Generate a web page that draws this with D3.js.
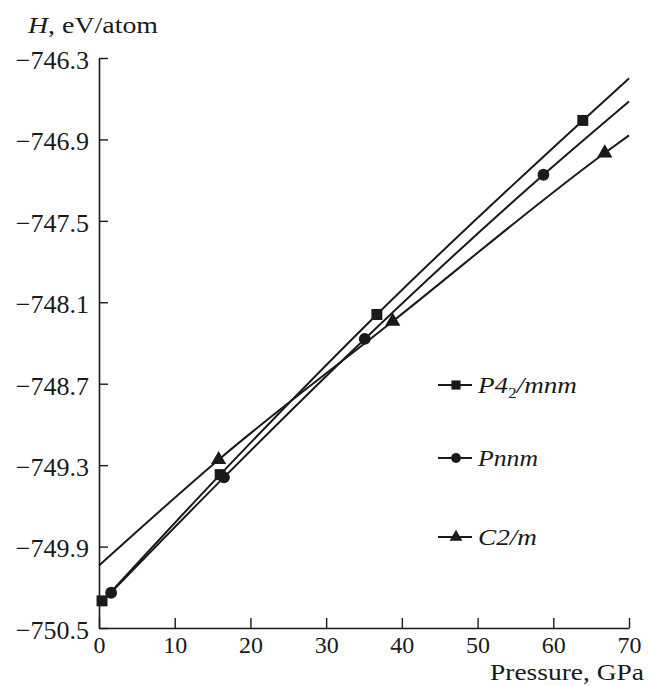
<!DOCTYPE html>
<html><head><meta charset="utf-8">
<script src="https://cdn.jsdelivr.net/npm/d3@7"></script>
<style>
html,body{margin:0;padding:0;background:#fff;}
text{font-family:"Liberation Serif","Times New Roman",serif;fill:#1a1a1a;}
</style></head>
<body><svg id="c" width="649" height="686"></svg>
<script>
// ---- data ----
const xTicks = [0,10,20,30,40,50,60,70];
const yTicks = [-746.3,-746.9,-747.5,-748.1,-748.7,-749.3,-749.9,-750.5];
const seriesNames = ["P42/mnm","Pnnm","C2/m"];
// marker points [pressure, enthalpy]
const ptsP42 = [[0.4,-750.30],[16.0,-749.37],[36.7,-748.19],[63.9,-746.76]];
const ptsPnnm = [[1.6,-750.24],[16.5,-749.39],[35.1,-748.37],[58.7,-747.16]];
const ptsC2m = [[15.8,-749.26],[38.8,-748.24],[66.8,-747.00]];
// fitted curves
const fitP42 = [[0,-750.33],[16.0,-749.37],[36.7,-748.19],[63.9,-746.76],[70,-746.45]];
const fitPnnm = [[0,-750.33],[16.5,-749.39],[35.1,-748.37],[58.7,-747.16],[70,-746.62]];
const fitC2m = [[0,-750.04],[15.8,-749.26],[38.8,-748.24],[66.8,-747.00],[70,-746.87]];

const svg = d3.select("#c");
const x = d3.scaleLinear().domain([0,70]).range([99,629]);
const y = d3.scaleLinear().domain([-750.5,-746.3]).range([628,58]);
const ink = "#1a1a1a";

// axes
const xAxis = d3.axisBottom(x).tickValues(xTicks).tickSizeInner(-10).tickSizeOuter(0).tickPadding(8).tickFormat(d3.format("d"));
const gx = svg.append("g").attr("transform","translate(0,628)").call(xAxis);
gx.select(".domain").attr("stroke",ink).attr("stroke-width",1.6);
gx.selectAll(".tick line").attr("stroke",ink).attr("stroke-width",1.4);
gx.selectAll("text").attr("font-size",24).attr("fill",ink).attr("font-family","Liberation Serif");

const yAxis = d3.axisLeft(y).tickValues(yTicks).tickSizeInner(-9).tickSizeOuter(0).tickPadding(10)
  .tickFormat(d => "\u2212" + Math.abs(d).toFixed(1));
const gy = svg.append("g").attr("transform","translate(99,0)").call(yAxis);
gy.select(".domain").attr("stroke",ink).attr("stroke-width",1.6);
gy.selectAll(".tick line").attr("stroke",ink).attr("stroke-width",1.4);
gy.selectAll("text").attr("font-size",26).attr("dy","0.4em").attr("fill",ink).attr("font-family","Liberation Serif");

// axis titles
const yt = svg.append("text").attr("x",28).attr("y",33).attr("font-size",24)
  .attr("textLength",130).attr("lengthAdjust","spacingAndGlyphs");
yt.append("tspan").attr("font-style","italic").text("H");
yt.append("tspan").text(", eV/atom");
svg.append("text").attr("x",490).attr("y",680).attr("font-size",24)
  .attr("textLength",154).attr("lengthAdjust","spacingAndGlyphs").text("Pressure, GPa");

// curves
const line = d3.line().x(d=>x(d[0])).y(d=>y(d[1])).curve(d3.curveMonotoneX);
[fitP42,fitPnnm,fitC2m].forEach(f=>{
  svg.append("path").attr("d",line(f)).attr("fill","none").attr("stroke",ink).attr("stroke-width",2);
});

// markers
const sym = [d3.symbolSquare, d3.symbolCircle, d3.symbolTriangle];
const sizes = [120, 110, 100];
const pts = [ptsP42, ptsPnnm, ptsC2m];
pts.forEach((p,i)=>{
  svg.append("g").selectAll("path").data(p).join("path")
    .attr("transform",d=>`translate(${x(d[0])},${y(d[1])})`)
    .attr("d",d3.symbol().type(sym[i]).size(sizes[i]))
    .attr("fill",ink);
});

// legend
const legY = [385,458,537];
const legW = [99,60,59];
legY.forEach((ly,i)=>{
  const g = svg.append("g");
  g.append("line").attr("x1",438).attr("x2",472).attr("y1",ly).attr("y2",ly).attr("stroke",ink).attr("stroke-width",2);
  g.append("path").attr("transform",`translate(456,${ly})`).attr("d",d3.symbol().type(sym[i]).size(sizes[i]*0.7)).attr("fill",ink);
  const t = g.append("text").attr("x",478).attr("y",ly+8).attr("font-size",24).attr("font-style","italic")
    .attr("textLength",legW[i]).attr("lengthAdjust","spacingAndGlyphs");
  if(i===0){
    t.append("tspan").text("P4");
    t.append("tspan").attr("font-size",15).attr("font-style","normal").attr("dy",5).text("2");
    t.append("tspan").attr("dy",-5).text("/mnm");
  } else {
    t.text(seriesNames[i]);
  }
});
</script></body></html>
